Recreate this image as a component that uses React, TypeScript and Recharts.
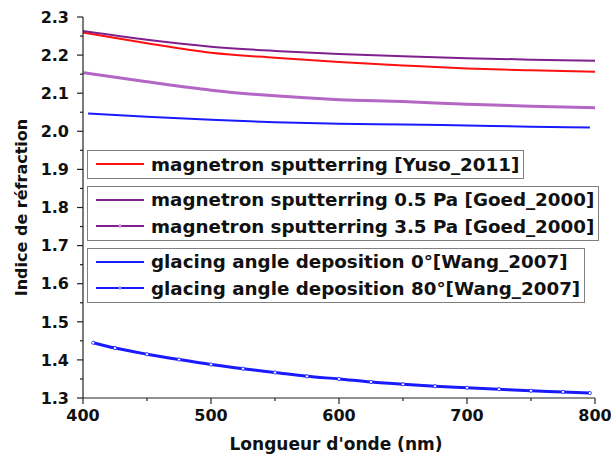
import React from 'react';
import { LineChart, Line, XAxis, YAxis, Legend } from 'recharts';

// wavelength (nm) readings for the smooth curves
const wlMain = [400, 450, 500, 550, 600, 650, 700, 750, 800];
const yuso2011 = [2.259, 2.231, 2.206, 2.193, 2.182, 2.173, 2.165, 2.160, 2.156];
const goed05Pa = [2.263, 2.240, 2.222, 2.211, 2.203, 2.197, 2.192, 2.188, 2.185];
const goed35Pa = [2.154, 2.130, 2.108, 2.093, 2.083, 2.078, 2.071, 2.066, 2.062];

const wlWang0 = [404, 450, 500, 550, 600, 650, 700, 750, 796];
const wang0 = [2.047, 2.038, 2.030, 2.024, 2.020, 2.018, 2.015, 2.012, 2.010];

const wlWang80 = [408, 425, 450, 475, 500, 525, 550, 575, 600, 625, 650, 675, 700, 725, 750, 775, 796];
const wang80 = [1.445, 1.431, 1.415, 1.401, 1.388, 1.377, 1.367, 1.357, 1.350, 1.342, 1.336, 1.331, 1.327, 1.323, 1.319, 1.316, 1.313];

const xTicks = [400, 450, 500, 550, 600, 650, 700, 750, 800];
const yTicks = [1.3, 1.35, 1.4, 1.45, 1.5, 1.55, 1.6, 1.65, 1.7, 1.75, 1.8, 1.85, 1.9, 1.95, 2.0, 2.05, 2.1, 2.15, 2.2, 2.25, 2.3];

const toRows = (xs: number[], ys: number[]) => xs.map((wl, i) => ({ wl, n: ys[i] }));

const FONT = '"DejaVu Sans", sans-serif';

const series = [
  { name: 'magnetron sputterring [Yuso_2011]', color: '#ff1010', light: false, group: 0, data: toRows(wlMain, yuso2011) },
  { name: 'magnetron sputterring 0.5 Pa [Goed_2000]', color: '#80208f', light: false, group: 1, data: toRows(wlMain, goed05Pa) },
  { name: 'magnetron sputterring 3.5 Pa [Goed_2000]', color: '#80208f', light: true, group: 1, data: toRows(wlMain, goed35Pa) },
  { name: 'glacing angle deposition 0°[Wang_2007]', color: '#1a1aff', light: false, group: 2, data: toRows(wlWang0, wang0) },
  { name: 'glacing angle deposition 80°[Wang_2007]', color: '#1a1aff', light: true, group: 2, data: toRows(wlWang80, wang80) },
];

const YTick = (props: any) => {
  const { x, y, payload, index } = props;
  const major = index % 2 === 0;
  return (
    <g>
      <line x1={x - (major ? 6 : 3)} x2={x} y1={y} y2={y} stroke="#222" strokeWidth={1.2} />
      {major && (
        <text x={x - 14} y={y} dy="0.36em" textAnchor="end" fontFamily={FONT} fontWeight="bold" fontSize={16} fill="#111">
          {Number(payload.value).toFixed(1)}
        </text>
      )}
    </g>
  );
};

const XTick = (props: any) => {
  const { x, y, payload, index } = props;
  const major = index % 2 === 0;
  return (
    <g>
      <line x1={x} x2={x} y1={y} y2={y + (major ? 6 : 3)} stroke="#222" strokeWidth={1.2} />
      {major && (
        <text x={x} y={y + 10} dy="0.8em" textAnchor="middle" fontFamily={FONT} fontWeight="bold" fontSize={16} fill="#111">
          {payload.value}
        </text>
      )}
    </g>
  );
};

const YTitle = (props: any) => {
  const vb = props.viewBox;
  const cx = vb.x + 21;
  const cy = vb.y + vb.height / 2;
  return (
    <text x={cx} y={cy} transform={`rotate(-90, ${cx}, ${cy})`} textAnchor="middle" dominantBaseline="central"
      fontFamily={FONT} fontWeight="bold" fontSize={16} fill="#111">
      Indice de réfraction
    </text>
  );
};

const XTitle = (props: any) => {
  const vb = props.viewBox;
  return (
    <text x={vb.x + vb.width / 2 - 3} y={vb.y + 46} textAnchor="middle" dominantBaseline="central"
      fontFamily={FONT} fontWeight="bold" fontSize={17} fill="#111">
      Longueur d'onde (nm)
    </text>
  );
};

const LegendBoxes = () => {
  const groups = [0, 1, 2];
  return (
    <div style={{ display: 'flex', flexDirection: 'column', alignItems: 'flex-start', gap: 7 }}>
      {groups.map((g) => (
        <div key={g} style={{ border: '1px solid #808080', padding: '0 4px 0 8px', background: '#fff' }}>
          {series.filter((s) => s.group === g).map((s) => (
            <div key={s.name} style={{ display: 'flex', alignItems: 'center', height: 26.5 }}>
              <svg width={48} height={10} style={{ marginRight: 7, flexShrink: 0 }}>
                <line x1={0} x2={48} y1={5} y2={5} stroke={s.color} strokeWidth={2} />
                {s.light && <circle cx={24} cy={5} r={1.3} fill="#fff" stroke={s.color} strokeWidth={0.6} />}
              </svg>
              <span style={{ fontFamily: FONT, fontWeight: 'bold', fontSize: 18.3, color: '#111', whiteSpace: 'nowrap' }}>
                {s.name}
              </span>
            </div>
          ))}
        </div>
      ))}
    </div>
  );
};

export default function App() {
  return (
    <div style={{ position: 'absolute', left: 0, top: 0, background: '#fff' }}>
      <LineChart width={611} height={463} margin={{ top: 17, right: 16, bottom: 0, left: 0 }}>
        <XAxis
          type="number"
          dataKey="wl"
          domain={[400, 800]}
          ticks={xTicks}
          interval={0}
          height={65}
          tickSize={0}
          tickMargin={0}
          tickLine={false}
          tick={<XTick />}
          stroke="#222"
          strokeWidth={1.2}
          allowDataOverflow
          label={(p: any) => <XTitle {...p} />}
        />
        <YAxis
          type="number"
          dataKey="n"
          domain={[1.3, 2.3]}
          ticks={yTicks}
          interval={0}
          width={83}
          tickSize={0}
          tickMargin={0}
          tickLine={false}
          tick={<YTick />}
          stroke="#222"
          strokeWidth={1.2}
          allowDataOverflow
          label={(p: any) => <YTitle {...p} />}
        />
        <Legend
          layout="horizontal"
          verticalAlign="middle"
          align="center"
          content={() => <LegendBoxes />}
          wrapperStyle={{ left: 87, top: 150, width: 520 }}
        />
        {series.map((s) => (
          <Line
            key={s.name}
            name={s.name}
            data={s.data}
            dataKey="n"
            type="monotone"
            stroke={s.group === 1 && s.light ? '#b466c4' : s.color}
            strokeWidth={s.light ? 3 : 2}
            dot={s.group === 2 && s.light ? { r: 1.6, fill: '#fff', stroke: s.color, strokeWidth: 0.8 } : false}
            isAnimationActive={false}
          />
        ))}
      </LineChart>
    </div>
  );
}
